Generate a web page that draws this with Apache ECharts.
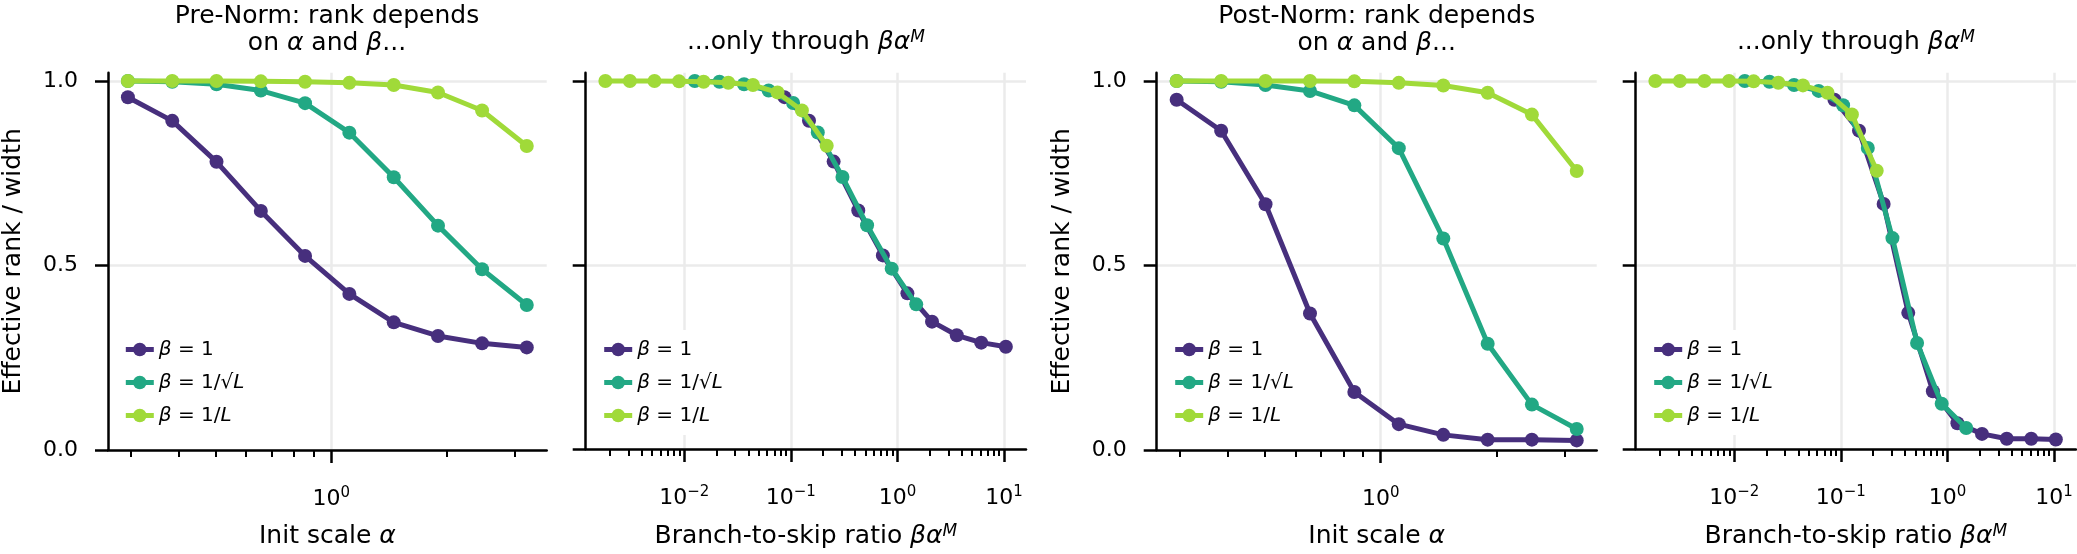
<!DOCTYPE html>
<html><head><meta charset="utf-8">
<script src="https://cdn.jsdelivr.net/npm/echarts@6/dist/echarts.min.js"></script>
<style>html,body{margin:0;padding:0;background:#fff}#c{width:2077px;height:554px}</style>
</head><body><div id="c"></div>
<script>
// ---- data ----
const seriesNames = ['β = 1', 'β = 1/√L', 'β = 1/L'];
const alpha = [0.295, 0.385, 0.502, 0.655, 0.854, 1.114, 1.454, 1.896, 2.47, 3.23];
const ratioB1 = [0.0871, 0.148, 0.252, 0.429, 0.730, 1.24, 2.11, 3.60, 6.11, 10.4];
const ratioBsqrt = [0.01256, 0.0214, 0.0364, 0.0619, 0.105, 0.179, 0.305, 0.519, 0.883, 1.50];
const ratioBL = [0.00182, 0.00309, 0.00526, 0.00893, 0.0152, 0.0259, 0.0441, 0.0750, 0.127, 0.217];
const preB1 = [0.956, 0.892, 0.781, 0.648, 0.526, 0.423, 0.346, 0.309, 0.289, 0.278];
const preBsqrt = [1.0, 0.998, 0.991, 0.974, 0.940, 0.860, 0.739, 0.608, 0.490, 0.393];
const preBL = [1.0, 1.0, 1.0, 0.999, 0.998, 0.995, 0.989, 0.969, 0.920, 0.824];
const postB1 = [0.949, 0.865, 0.666, 0.370, 0.157, 0.070, 0.041, 0.028, 0.028, 0.026];
const postBsqrt = [1.0, 0.998, 0.989, 0.973, 0.934, 0.818, 0.573, 0.288, 0.123, 0.057];
const postBL = [1.0, 1.0, 1.0, 1.0, 0.999, 0.995, 0.988, 0.968, 0.909, 0.756];
// ---- tick values ----
const yTicks = [0, 0.5, 1.0];
const alphaMajorTicks = [1];
const alphaMinorTicks = [0.3, 0.4, 0.5, 0.6, 0.7, 0.8, 0.9, 2, 3];
const ratioMajorTicks = [0.01, 0.1, 1, 10];
const ratioMinorTicks = [0.002, 0.003, 0.004, 0.005, 0.006, 0.007, 0.008, 0.009,
  0.02, 0.03, 0.04, 0.05, 0.06, 0.07, 0.08, 0.09,
  0.2, 0.3, 0.4, 0.5, 0.6, 0.7, 0.8, 0.9,
  2, 3, 4, 5, 6, 7, 8, 9];
const titles = ['Pre-Norm: rank depends\non {i|α} and {i|β}...', '...only through {i|βα}{sup|M}',
  'Post-Norm: rank depends\non {i|α} and {i|β}...', '...only through {i|βα}{sup|M}'];
const xNames = ['Init scale {i|α}', 'Branch-to-skip ratio {i|βα}{sup|M}',
  'Init scale {i|α}', 'Branch-to-skip ratio {i|βα}{sup|M}'];
const yName = 'Effective rank / width';

// ---- styles / layout ----
const colors = ['#472f7d', '#22a884', '#a0da39'];
const FONT = 'DejaVu Sans';
const grids = [
  {left: 107.3, width: 439.4},
  {left: 585.7, width: 440.3},
  {left: 1156.7, width: 440.0},
  {left: 1635.7, width: 440.3}
];
const TOP = 72.7, HEIGHT = 377.3;
const alphaRange = [0.2618, 3.64];
const ratioRange = [0.00119, 16.07];

const richTxt = {
  i: {fontFamily: FONT, fontStyle: 'italic', fontSize: 25, color: '#000'},
  sup: {fontFamily: FONT, fontStyle: 'italic', fontSize: 17, color: '#000', verticalAlign: 'top', lineHeight: 27}
};

function expLabel(v) {
  const e = Math.round(Math.log10(v));
  return '{b|10}{s|' + (e < 0 ? '\u2212' + (-e) : e) + '}';
}

const isRatio = [false, true, false, true];
const xData = [alpha, null, alpha, null];
const yData = [[preB1, preBsqrt, preBL], [preB1, preBsqrt, preBL], [postB1, postBsqrt, postBL], [postB1, postBsqrt, postBL]];
const ratioX = [ratioB1, ratioBsqrt, ratioBL];

const option = {
  animation: false,
  backgroundColor: '#fff',
  grid: grids.map(g => ({left: g.left, width: g.width, top: TOP, height: HEIGHT, containLabel: false})),
  title: grids.map((g, k) => ({
    text: titles[k],
    left: g.left + g.width / 2,
    textAlign: 'center',
    top: k % 2 === 0 ? 2.5 : 29,
    padding: 0,
    textStyle: {fontFamily: FONT, fontSize: 25, fontWeight: 'normal', color: '#000', lineHeight: 27, rich: richTxt}
  })),
  legend: grids.map((g, k) => ({
    data: seriesNames,
    orient: 'vertical',
    left: g.left + 16 - 8,
    top: 330,
    padding: [8, 10, 8, 8],
    backgroundColor: '#fff',
    itemWidth: 28,
    itemHeight: 17,
    itemGap: 10,
    selectedMode: false,
    lineStyle: {width: 5},
    formatter: n => n.replace('β', '{i|β}').replace(/L$/, '{i|L}'),
    textStyle: {fontFamily: FONT, fontSize: 20, color: '#000', lineHeight: 23,
      rich: {i: {fontFamily: FONT, fontStyle: 'italic', fontSize: 20, color: '#000'}}}
  })),
  xAxis: [],
  yAxis: [],
  series: []
};

grids.forEach((g, k) => {
  const r = isRatio[k];
  const range = r ? ratioRange : alphaRange;
  option.xAxis.push({
    type: 'log', logBase: 10, gridIndex: k, min: range[0], max: range[1],
    position: 'bottom',
    name: xNames[k], nameLocation: 'middle', nameGap: 74,
    nameTextStyle: {fontFamily: FONT, fontSize: 25, color: '#000', rich: richTxt},
    axisLine: {show: true, onZero: false, lineStyle: {color: '#000', width: 2.5}},
    axisTick: {show: true, customValues: r ? ratioMajorTicks : alphaMajorTicks, length: 13, lineStyle: {color: '#000', width: 2.5}},
    axisLabel: {show: true, customValues: r ? ratioMajorTicks : alphaMajorTicks, margin: 36,
      formatter: expLabel,
      rich: {
        b: {fontFamily: FONT, fontSize: 22, color: '#000', lineHeight: 26},
        s: {fontFamily: FONT, fontSize: 15, color: '#000', verticalAlign: 'top', lineHeight: 26}
      }},
    splitLine: {show: true, lineStyle: {color: '#ebebeb', width: 2.5}},
    minorTick: {show: false}, minorSplitLine: {show: false}
  });
  option.yAxis.push({
    type: 'value', gridIndex: k, min: 0, max: 1.0225,
    name: k % 2 === 0 ? yName : '', nameLocation: 'middle', nameGap: 82,
    nameTextStyle: {fontFamily: FONT, fontSize: 25, color: '#000'},
    axisLine: {show: true, lineStyle: {color: '#000', width: 2.5}},
    axisTick: {show: true, customValues: yTicks, length: 13, lineStyle: {color: '#000', width: 2.5}},
    axisLabel: {show: k % 2 === 0, customValues: yTicks, margin: 30,
      formatter: v => v.toFixed(1),
      fontFamily: FONT, fontSize: 22, color: '#000'},
    splitLine: {show: true, lineStyle: {color: '#ebebeb', width: 2.5}}
  });
  for (let s = 0; s < 3; s++) {
    const xs = r ? ratioX[s] : xData[k];
    option.series.push({
      type: 'line', name: seriesNames[s], xAxisIndex: k, yAxisIndex: k,
      data: xs.map((x, i) => [x, yData[k][s][i]]),
      symbol: 'circle', symbolSize: 14, showSymbol: true,
      color: colors[s],
      itemStyle: {color: colors[s]},
      lineStyle: {color: colors[s], width: 5},
      clip: false, z: 3 + s
    });
  }
});
// minor tick axes
grids.forEach((g, k) => {
  const r = isRatio[k];
  const range = r ? ratioRange : alphaRange;
  option.xAxis.push({
    type: 'log', logBase: 10, gridIndex: k, min: range[0], max: range[1],
    position: 'bottom', offset: 0,
    axisLine: {show: false},
    axisTick: {show: true, customValues: r ? ratioMinorTicks : alphaMinorTicks, length: 7, lineStyle: {color: '#000', width: 2}},
    axisLabel: {show: false},
    splitLine: {show: false}
  });
});

const chart = echarts.init(document.getElementById('c'), null, {renderer: 'canvas'});
chart.setOption(option);
</script></body></html>
